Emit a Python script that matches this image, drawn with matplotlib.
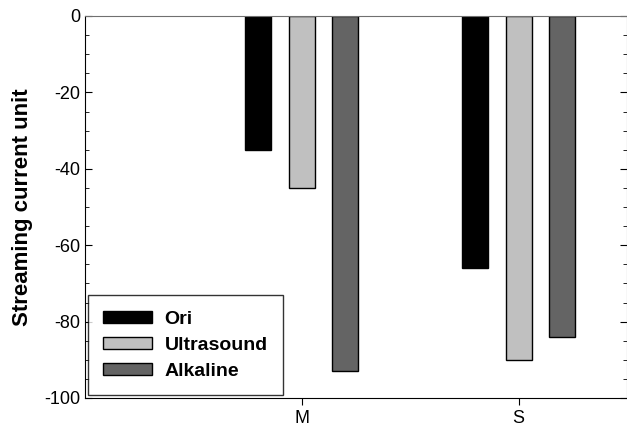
import matplotlib
matplotlib.use("Agg")
import matplotlib.pyplot as plt
import numpy as np
from matplotlib.ticker import MultipleLocator

# Streaming current per sample and treatment
samples = ["M", "S"]
treatments = ["Ori", "Ultrasound", "Alkaline"]
ori = [-35, -66]
ultrasound = [-45, -90]
alkaline = [-93, -84]
colors = ["#000000", "#c0c0c0", "#646464"]

plt.rcParams["font.family"] = ["Liberation Sans", "DejaVu Sans"]
plt.rcParams["axes.unicode_minus"] = False

fig = plt.figure(figsize=(6.27, 4.29), dpi=100)
ax = fig.add_axes([85 / 627, 31 / 429, 542 / 627, 382 / 429])

x = np.arange(1, len(samples) + 1)
offsets = [-0.2, 0.0, 0.2]
width = 0.12
for vals, name, off, c in zip([ori, ultrasound, alkaline], treatments, offsets, colors):
    ax.bar(x + off, vals, width, color=c, edgecolor="black", linewidth=1.0, label=name)

ax.set_xlim(0, 2.5)
ax.set_ylim(-100, 0)
ax.set_xticks(x)
ax.set_xticklabels(samples, fontsize=13)
ax.yaxis.set_major_locator(MultipleLocator(20))
ax.yaxis.set_minor_locator(MultipleLocator(5))
ax.tick_params(axis="y", which="both", direction="in", right=True, labelsize=13)
ax.tick_params(axis="y", which="major", length=5)
ax.tick_params(axis="y", which="minor", length=3)
ax.tick_params(axis="x", direction="out", length=5)
ax.set_ylabel("Streaming current unit", fontsize=16, fontweight="bold", labelpad=8)

for side in ["top", "right"]:
    ax.spines[side].set_color("#707070")

leg = ax.legend(loc="lower left", bbox_to_anchor=(0.0, 0.0),
                prop={"weight": "bold", "size": 14}, frameon=True, fancybox=False,
                edgecolor="black", handlelength=2.5, handleheight=0.6,
                handletextpad=0.65, borderaxespad=0.15, labelspacing=0.45,
                borderpad=0.8)
leg.get_frame().set_linewidth(1.0)

fig.savefig("out.png", dpi=100)
